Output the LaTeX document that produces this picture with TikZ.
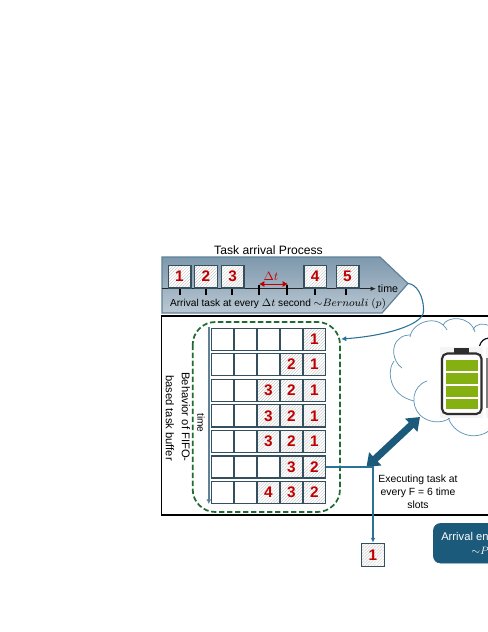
\documentclass[tikz,border=0pt]{standalone}
\usepackage{fontspec}
\setmainfont{Liberation Sans}
\usetikzlibrary{arrows.meta,patterns.meta}
\definecolor{tealbox}{HTML}{1B5A7A}
\definecolor{thinline}{HTML}{2A7197}
\definecolor{cellline}{HTML}{34505F}
\definecolor{redn}{HTML}{C00000}
\definecolor{cloudc}{HTML}{5F95B5}
\definecolor{fifog}{HTML}{1F6B33}
\definecolor{timeax}{HTML}{5F8299}
\definecolor{bantop}{HTML}{7E98AD}
\definecolor{banbot}{HTML}{BAC8D3}
\definecolor{battg}{HTML}{84B011}
\tikzset{
  numtext/.style={text=redn,font=\fontsize{11.5}{11.5}\selectfont\bfseries},
  cellbox/.style={draw=cellline,line width=1pt,minimum width=16.8pt,minimum height=16.6pt,inner sep=0pt,fill=white,numtext},
  hatched/.style={fill=white,path picture={\fill[pattern={Lines[angle=45,distance=1.6pt,line width=.22pt]},pattern color=black!28] (path picture bounding box.south west) rectangle (path picture bounding box.north east);}},
  labeltext/.style={text=black,font=\fontsize{7.6}{9}\selectfont,inner sep=0pt},
  tick/.style={line width=1.3pt,black},
  cloudline/.style={draw=cloudc,line width=.55pt},
}
\newcommand{\mycell}[4]{%
  \ifnum#4=0
    \node[cellbox] (c#1-#2) at (#3) {};
  \else
    \node[cellbox,hatched] (c#1-#2) at (#3) {#4};
  \fi}
\begin{document}
\begin{tikzpicture}[x=.75pt,y=-.75pt]
\useasboundingbox (0,0) rectangle (488,632);
\clip (0,0) rectangle (488,632);
\fill[white] (0,0) rectangle (488,632);
% title
\node[font=\fontsize{9.1}{10}\selectfont,inner sep=0pt] (title) at (268.5,250.5) {Task arrival Process};
% arrival banner
\shade[top color=bantop,bottom color=banbot] (162,257) -- (380,257) -- (408,283.5) -- (382,313) -- (162,313) -- cycle;
\draw[draw=timeax,line width=.9pt] (162,257) -- (380,257) -- (408,283.5) -- (382,313) -- (162,313) -- cycle;
\coordinate (tip) at (408,283.5);
\coordinate (axstart) at (162,288.7);
\coordinate (axend) at (376,288.7);
\draw[line width=.8pt,black!85,-{Latex[length=4pt,width=3.5pt]}] (axstart) -- (axend);
\node[labeltext,font=\fontsize{8}{9}\selectfont] (timelab) at (388,289) {time};
\foreach \x in {180,206,232,259,287,315,346}{\draw[tick] (\x,285) -- (\x,295);}
\foreach \n/\x in {1/179.5,2/206,3/232.7,4/315.2,5/347.5}{
  \node[cellbox,hatched,minimum width=17pt,minimum height=17pt] (a\n) at (\x,276.5) {\n};
}
\coordinate (dl) at (259,284);
\coordinate (dr) at (288,284);
\draw[redn,line width=.7pt,{Latex[length=4pt,width=4.5pt]}-{Latex[length=4pt,width=4.5pt]}] (dl) -- (dr);
\node[text=redn,font=\fontsize{9}{9}\selectfont,inner sep=0pt] (dt) at (271,276) {$\Delta t$};
\node[labeltext] (arrlab) at (278,303.5) {Arrival task at every $\Delta t$ second ${\sim}Bernouli\ (p)$};
% outer frame
\draw[black,line width=1.4pt] (161.5,316) rectangle (500,515);
% fifo
\draw[fifog,line width=1.3pt,dash pattern=on 4pt off 2pt,rounded corners=17pt] (192.7,322) rectangle (340,512);
\coordinate (fifoin) at (341,339);
\foreach \rw/\yy/\ca/\cb/\cc in {1/339.7/0/0/1,2/364.6/0/2/1,3/390.5/3/2/1,4/415.8/3/2/1,5/441.5/3/2/1,6/467/0/3/2,7/492.3/4/3/2}{
  \mycell{\rw}{1}{222.5,\yy}{0}
  \mycell{\rw}{2}{245.5,\yy}{0}
  \mycell{\rw}{3}{268.5,\yy}{\ca}
  \mycell{\rw}{4}{291.5,\yy}{\cb}
  \mycell{\rw}{5}{314.5,\yy}{\cc}
}
\coordinate (ta) at (208.8,327);
\coordinate (tb) at (208.8,504);
\draw[timeax,line width=1.3pt,-{Latex[length=3.5pt,width=3.8pt]}] (ta) -- (tb);
\node[labeltext,rotate=-90] (tlab) at (201,423) {time};
\node[labeltext,rotate=-90,font=\fontsize{8.4}{9}\selectfont] (beh) at (186,417) {Behavior of FIFO-};
\node[labeltext,rotate=-90,font=\fontsize{8.4}{9}\selectfont] (bas) at (170,418) {based task buffer};
% curve
\draw[thinline,line width=.8pt,-{Latex[length=4pt,width=4pt]}] (tip) .. controls (416,284) and (424,295) .. (423.5,312) .. controls (422,325) and (385,336) .. (fifoin);
% cloud
\draw[cloudline] (402,368) .. controls (392,361) and (391,345) .. (399,339) .. controls (402,336) and (406,335) .. (410,335);
\draw[cloudline] (410,337) .. controls (412,322) and (438,313) .. (447,330);
\draw[cloudline] (443,325) .. controls (447,316) and (470,315) .. (475,332);
\draw[cloudline] (473,330) .. controls (476,323) and (483,323) .. (490,326);
\draw[cloudline] (394,361) .. controls (387,370) and (388,395) .. (414,401);
\draw[cloudline] (427,381) .. controls (412,386) and (410,405) .. (420,415) .. controls (428,423) and (442,424) .. (450,418);
\draw[cloudline] (448,417) .. controls (453,434) and (475,442) .. (490,430);
% battery
\fill[black!4] (440,347) rectangle (483,418);
\fill[black!4] (486,347) rectangle (490,418);
\fill[black!50] (486.3,358) rectangle (490,408);
\fill[black!82] (454,348) rectangle (469,354);
\draw[black!82,line width=1.6pt,rounded corners=4pt,fill=white] (442,353.5) rectangle (481.5,414);
\foreach \ya/\yb in {360/371,373/384,386/397,399/409}{\fill[battg] (446,\ya) rectangle (477.7,\yb);}
\draw[black!80!tealbox,line width=.9pt] (479.5,346) .. controls (481,341) and (484,338.5) .. (489,338);
% bidirectional arrow
\coordinate (cloudend) at (420,417);
\coordinate (busend) at (366.5,467);
\draw[tealbox,line width=5.4pt,{Triangle[length=9pt,width=13pt]}-{Triangle[length=9pt,width=13pt]}] (busend) -- (cloudend);
% output
\node[cellbox,hatched,minimum width=17pt,minimum height=17.6pt] (out) at (373,555) {1};
\draw[thinline,line width=.8pt,-{Latex[length=3.5pt,width=3.5pt]}] (c6-5.east) -| (out.north);
\node[labeltext,align=center,font=\fontsize{7.8}{9.6}\selectfont] (exec) at (418,492) {Executing task at\\every F = 6 time\\slots};
% energy box
\draw[fill=tealbox,draw=tealbox,rounded corners=5pt] (433.5,523.5) rectangle (510,563);
\node[anchor=west,text=white,font=\fontsize{8.4}{9}\selectfont,inner sep=0pt] (en1) at (441,536) {Arrival en};
\node[anchor=west,text=white,font=\fontsize{8.4}{9}\selectfont,inner sep=0pt] (en2) at (471,551) {${\sim}P$};
\end{tikzpicture}
\end{document}
